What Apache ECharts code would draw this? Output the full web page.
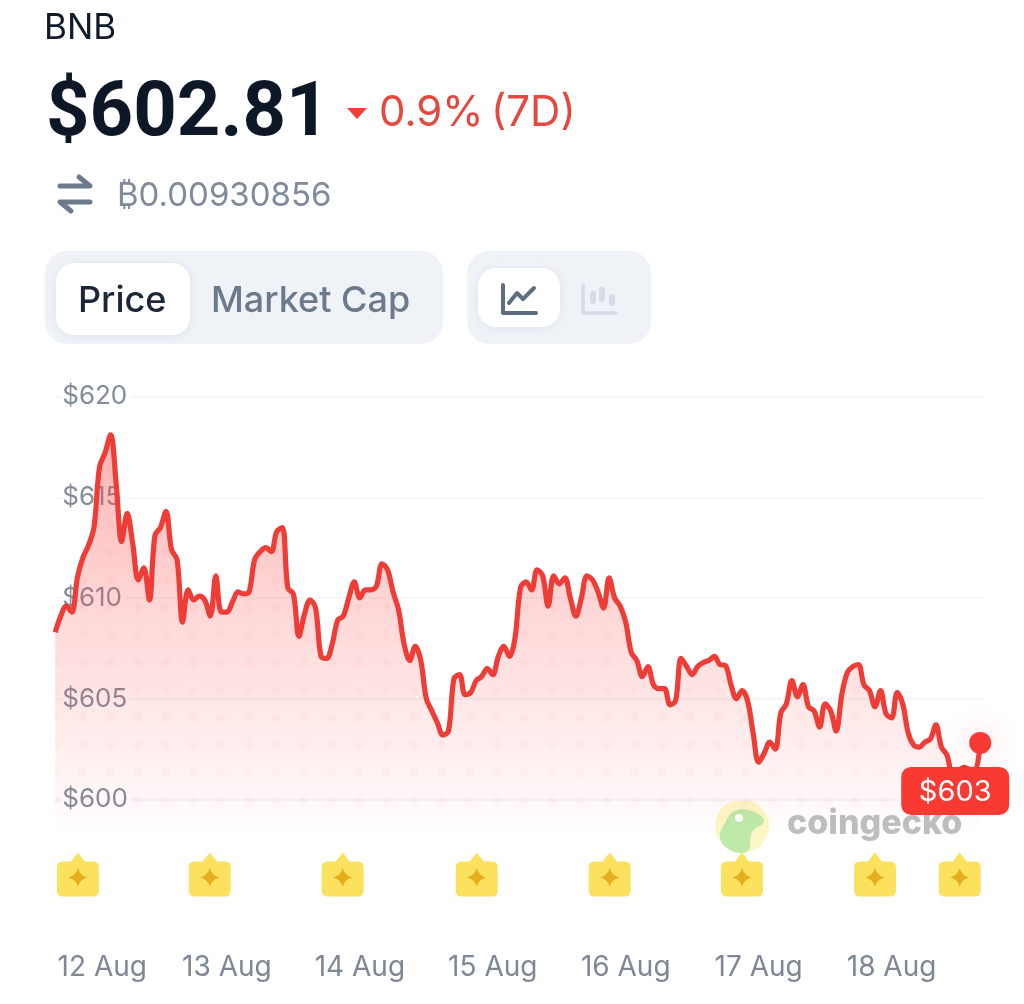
<!DOCTYPE html>
<html><head><meta charset="utf-8">
<style>html,body{margin:0;padding:0;background:#fff}#c{width:1024px;height:1004px}</style>
<script src="https://cdn.jsdelivr.net/npm/echarts@6/dist/echarts.min.js"></script>
</head><body><div id="c"></div>
<script>
const startHour = -7; // hourly samples, hours counted from 12 Aug 00:00
const prices = [608.3,609.1,609.6,609.3,611.0,612.0,612.6,613.5,616.5,617.2,618.1,615.7,612.8,614.2,612.7,610.9,611.5,609.9,613.1,613.5,614.3,612.4,611.9,608.8,610.4,609.9,610.1,609.9,609.1,611.1,609.3,609.3,609.8,610.3,610.2,610.3,611.9,612.3,612.5,612.3,613.3,613.5,610.5,610.2,608.1,609.2,609.9,609.5,607.1,607.0,607.7,608.9,609.1,610.0,610.8,610.0,610.4,610.4,610.6,611.7,611.4,610.3,609.4,607.7,606.9,607.6,606.9,605.0,604.4,603.8,603.2,603.4,606.0,606.2,605.2,605.3,605.9,606.1,606.5,606.2,607.1,607.6,607.1,608.0,610.5,610.8,610.4,611.4,611.1,609.6,611.1,610.7,611.0,610.0,609.1,610.0,611.1,610.9,610.3,609.5,611.0,610.0,609.6,608.8,607.3,606.9,606.1,606.6,605.7,605.5,605.5,604.7,604.9,607.0,606.6,606.2,606.6,606.8,606.9,607.1,606.7,606.65,605.7,605.0,605.4,604.9,603.3,601.85,602.3,602.85,602.5,604.3,604.75,605.9,605.1,605.7,604.6,604.4,603.6,604.75,604.4,603.4,605.2,606.3,606.6,606.7,605.7,605.4,604.6,605.4,604.25,604.05,605.3,604.75,603.3,602.7,602.6,602.85,603.0,603.7,602.6,602.2,601.3,601.4,601.6,601.5,601.4,602.81];
const dayLabels = ['12 Aug','13 Aug','14 Aug','15 Aug','16 Aug','17 Aug','18 Aug'];
const dayLabelHours = [1.5,24,48,72,96,120,144];
const priceTicks = [600,605,610,615,620];
const flagHours = [-2.9,20.9,44.9,69.1,93.1,117,141,156.3];
const flagPrice = 596.28;
const starPrice = 596.13;

const line = prices.map((p,i)=>[startHour+i,p]);
const last = line[line.length-1];

// faint dot texture
const tile = document.createElement('canvas');
tile.width = 138; tile.height = 138;
const tc = tile.getContext('2d');
tc.fillStyle = 'rgba(240,70,70,0.04)';
for(let a=0;a<6;a++)for(let b=0;b<6;b++){tc.beginPath();tc.arc(a*27.6,b*27.6,4.5,0,7);tc.fill();}

const flagPath='path://M6 9H14L21 0L28 9H36Q42 9 42 15V38Q42 44 36 44H6Q0 44 0 38V15Q0 9 6 9Z';
const starPath='path://M10 0Q12 8 20 10Q12 12 10 20Q8 12 0 10Q8 8 10 0Z';
const F='Inter, "Noto Sans", sans-serif';
const t=(x,y,text,size,color,weight,extra)=>({type:'text',x,y,style:Object.assign({text,fontSize:size,fontFamily:F,fontWeight:weight||400,fill:color,verticalAlign:'middle',align:'left'},extra||{})});
const rr=(x,y,w,h,r,fill,shadow)=>({type:'rect',shape:{x,y,width:w,height:h,r},style:Object.assign({fill},shadow?{shadowBlur:8,shadowColor:'rgba(120,135,160,0.15)',shadowOffsetY:1}:{})});
const pl=(points,color,w)=>({type:'polyline',shape:{points},style:{stroke:color,lineWidth:w,fill:null,lineCap:'round',lineJoin:'round'}});

const graphics=[
 t(44,28,'BNB',35,'#0f1a2a',400),
 t(46,116,'$602.81',76,'#0d1726',700,{fontFamily:'Roboto, Inter, sans-serif'}),
 {type:'polygon',shape:{points:[[347,108],[367,108],[357,119]]},style:{fill:'#ef3f36',lineJoin:'round'}},
 t(379,113,'0.9%',42,'#e5483f',400),
 t(491,113,'(7D)',42,'#e5483f',400),
 pl([[60,186],[90,186],[79,177]],'#6d7a8c',5),
 pl([[90,202],[60,202],[71,211]],'#6d7a8c',5),
 t(117,196,'₿0.00930856',33,'#7f8b9b',400),
 rr(45,251,398,93,22,'#eff3f8'),
 rr(56,263,134,72,18,'#ffffff',true),
 t(78,301,'Price',36,'#1b2636',500),
 t(211,301,'Market Cap',36,'#6c7a8c',500),
 rr(467,251,184,93,22,'#eff3f8'),
 rr(478,268,82,59,18,'#ffffff',true),
 pl([[503,285],[503,313],[536,313]],'#5f6d80',4),
 pl([[509,303],[517,293],[523,299],[534,288]],'#5f6d80',4),
 pl([[583,285],[583,313],[616,313]],'#d5dce7',3.5),
 rr(590,291,6,13,3,'#d5dce7'),rr(599,287,6,15,3,'#d5dce7'),rr(609,294,6,12,3,'#d5dce7'),
 {type:'circle',shape:{cx:742,cy:826,r:27},style:{fill:'#fbf6c6'}},
 {type:'polygon',shape:{points:[[734,811],[752,811],[764,821],[752,832],[748,851],[732,851],[720,838],[726,821]],smooth:0.4},style:{fill:'#bde9a9'}},
 {type:'circle',shape:{cx:739,cy:818,r:4},style:{fill:'#ffffff'}},
 t(787,824,'coingecko',34,'#bcbec0',800),
];

const chart=echarts.init(document.getElementById('c'),null,{renderer:'canvas'});
chart.setOption({
 animation:false,
 backgroundColor:'#ffffff',
 graphic:{elements:graphics},
 grid:{left:55.2,right:41,top:396.5,height:503.75,containLabel:false},
 xAxis:{type:'value',min:-7,max:160.5,
  axisLine:{show:false},axisTick:{show:false},splitLine:{show:false},
  axisLabel:{customValues:dayLabelHours,margin:53,fontSize:28,fontFamily:F,color:'#7d8796',hideOverlap:false,showMinLabel:true,
   formatter:v=>dayLabels[dayLabelHours.indexOf(v)]||''}},
 yAxis:{type:'value',min:595,max:620,interval:5,
  axisLine:{show:false},axisTick:{show:false},
  splitLine:{show:true,showMinLine:false,lineStyle:{color:'#f5f6f8',width:2}},
  axisLabel:{inside:true,margin:7,fontSize:26,fontFamily:F,color:'#818b9b',backgroundColor:'#ffffff',padding:[4,3,0,0],
   formatter:v=>priceTicks.includes(v)?'$'+v:''}},
 series:[
  {type:'line',data:line,showSymbol:false,symbol:'none',smooth:0.35,z:2,silent:true,
   lineStyle:{color:'#ee3d36',width:5.2},
   areaStyle:{color:{type:'linear',global:true,x:0,y:430,x2:0,y2:835,colorStops:[
     {offset:0,color:'rgba(252,80,80,0.62)'},
     {offset:0.45,color:'rgba(252,80,80,0.32)'},
     {offset:0.8,color:'rgba(252,80,80,0.13)'},
     {offset:1,color:'rgba(252,80,80,0)'}]}}},
  {type:'line',data:line,showSymbol:false,symbol:'none',smooth:0.35,z:1,silent:true,
   lineStyle:{width:0,opacity:0},
   areaStyle:{origin:599.7,opacity:1,color:{image:tile,repeat:'repeat'}}},
  {type:'scatter',data:flagHours.map(h=>[h,flagPrice]),symbol:flagPath,symbolSize:[42,44],z:3,silent:true,
   itemStyle:{color:'#fce15e',opacity:1}},
  {type:'scatter',data:flagHours.map(h=>[h,starPrice]),symbol:starPath,symbolSize:19,z:4,silent:true,
   itemStyle:{color:'#e5ae1c',opacity:1}},
  {type:'scatter',data:[last],symbol:'circle',symbolSize:22,z:6,silent:true,
   itemStyle:{color:'#f83a33',opacity:1,shadowBlur:30,shadowColor:'rgba(248,58,51,0.25)'},
   label:{show:true,position:'bottom',distance:0,offset:[-25,13],
    formatter:p=>'$'+Math.round(p.value[1]),
    color:'#ffffff',fontFamily:F,fontSize:29,backgroundColor:'#f83a33',borderRadius:10,
    padding:[11,17,9,17],width:74,align:'center',lineHeight:28}}
 ]
});
</script></body></html>
